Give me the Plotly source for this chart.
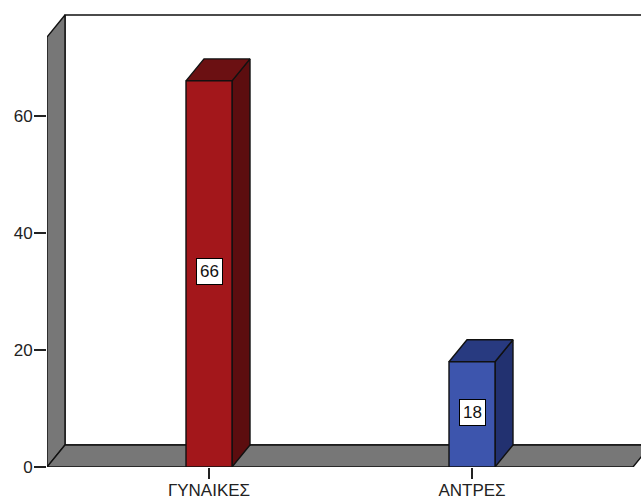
import plotly.graph_objects as go

# Data
categories = ["ΓΥΝΑΙΚΕΣ", "ΑΝΤΡΕΣ"]
counts = [66, 18]
y_ticks = [0, 20, 40, 60]

# Styling
front_colors = ["#A3171B", "#3D55AD"]
top_colors = ["#6B1012", "#283A80"]
side_colors = ["#5C0D0F", "#223170"]
wall_gray = "#777777"
edge = "#111111"
font_family = "Arial, Liberation Sans"

W, H = 641, 499
ml, mb = 47, 32
plot_w, plot_h = W - ml, H - mb
px_per_val = 5.85          # vertical pixels per count unit
px_per_cat = 263.0         # horizontal pixels between categories
first_cat_px = 209.0

x_min = -(first_cat_px - ml) / px_per_cat
x_max = x_min + plot_w / px_per_cat
y_max = plot_h / px_per_val

# 3D depth offsets in axis units
dx = 18 / px_per_cat
dy = 22 / px_per_val
bar_w = 46 / px_per_cat
wall_top = 73.5
floor_right = x_min + (633 - ml) / px_per_cat

fig = go.Figure()


def poly(xs, ys, fill, lw=1.4):
    fig.add_trace(go.Scatter(
        x=xs + [xs[0]], y=ys + [ys[0]], mode="lines", fill="toself",
        fillcolor=fill, line=dict(color=edge, width=lw),
        hoverinfo="skip", showlegend=False))


# back wall
poly([x_min + dx, x_min + dx, x_max + 1, x_max + 1],
     [dy, wall_top + dy, wall_top + dy, dy], "white")
# left wall
poly([x_min, x_min + dx, x_min + dx, x_min],
     [0, dy, wall_top + dy, wall_top], wall_gray)
# floor
poly([x_min, x_min + dx, floor_right + dx, floor_right],
     [0, dy, dy, 0], wall_gray)

# bars: side, top, then front face
for i, v in enumerate(counts):
    l, r = i - bar_w / 2, i + bar_w / 2
    poly([r, r, r + dx, r + dx], [0, v, v + dy, dy], side_colors[i])
    poly([l, l + dx, r + dx, r], [v, v + dy, v + dy, v], top_colors[i])
    poly([l, l, r, r], [0, v, v, 0], front_colors[i])

# value labels
for i, v in enumerate(counts):
    fig.add_annotation(
        x=i, y=v / 2 + 0.4, text=str(v), showarrow=False,
        font=dict(family=font_family, size=17, color="#111111"),
        bgcolor="white", bordercolor="black", borderwidth=1, borderpad=3)

fig.update_layout(
    width=W, height=H,
    margin=dict(l=ml, r=0, t=0, b=mb),
    paper_bgcolor="white", plot_bgcolor="white",
    font=dict(family=font_family, size=17, color="#222222"),
    xaxis=dict(range=[x_min, x_max], tickvals=list(range(len(categories))),
               ticktext=categories, ticks="outside", ticklen=11,
               tickcolor="#222222", tickwidth=1.5, showgrid=False,
               zeroline=False, showline=False, fixedrange=True,
               ticklabelstandoff=-3),
    yaxis=dict(range=[0, y_max], tickvals=y_ticks, ticks="outside",
               ticklen=12, tickcolor="#222222", tickwidth=1.5,
               showgrid=False, zeroline=False, showline=False,
               fixedrange=True, ticklabelstandoff=-2),
)

fig.write_html("out.html")
